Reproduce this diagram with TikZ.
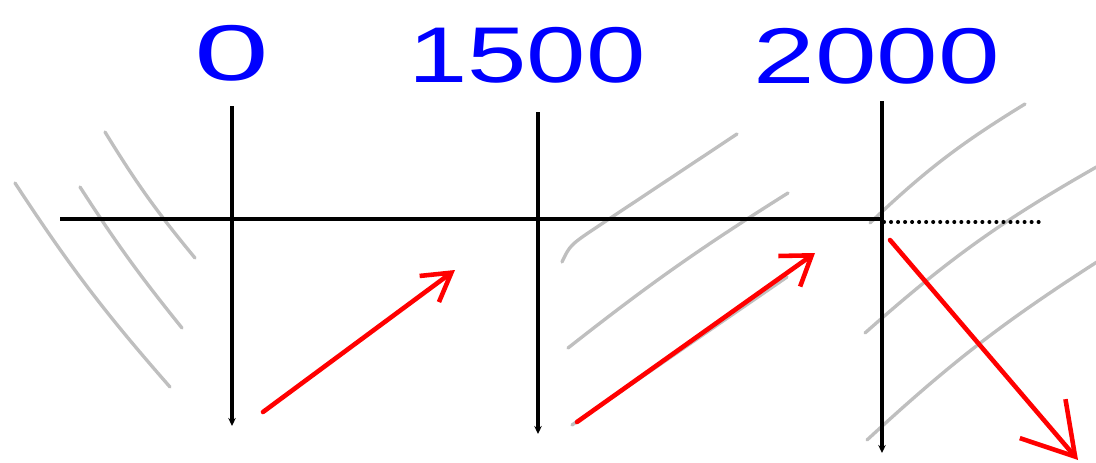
\documentclass[tikz,border=0pt]{standalone}
\usepackage{fontspec}
\setmainfont{Liberation Sans}
\usetikzlibrary{arrows.meta, calc}

\begin{document}
\begin{tikzpicture}[x=0.02cm, y=-0.02cm, >={Stealth[length=1.6mm, width=1.5mm]},
  axis/.style={line width=2pt, black},
  hatch/.style={line width=1.9pt, black!25, line cap=round},
  move/.style={line width=2.6pt, red, line cap=round, line join=round},
  year/.style={text=blue, font=\fontsize{45}{45}\selectfont, inner sep=0pt}]
  \useasboundingbox (0,0) rectangle (1096,463);
  \node[year] (lbl0) at (232,53) {\scalebox{1.7}[1]{0}};
  \node[year] (lbl1500) at (527,55) {\scalebox{1.35}[1]{1500}};
  \node[year] (lbl2000) at (877,56) {\scalebox{1.4}[1]{2000}};
  \draw[hatch] (15,183) to[bend right=4] (170,387);
  \draw[hatch] (80,187) to[bend right=3] (182,328);
  \draw[hatch] (105,132) to[bend right=4] (195,258);
  \draw[hatch] (562,262) .. controls (570,245) .. (600,225) -- (737,134);
  \draw[hatch] (568,348) to[bend left=3] (788,193);
  \draw[hatch] (572,425) -- (787,277);
  \draw[hatch] (870,223) to[bend left=6] (1025,104);
  \draw[hatch] (865,333) to[bend left=6] (1100,165);
  \draw[hatch] (867,440) to[bend left=5] (1100,260);
  \coordinate (start) at (60,219);
  \coordinate (now) at (880,219);
  \coordinate (later) at (1044,222);
  \coordinate (top0) at (232,106);
  \coordinate (bot0) at (232,426);
  \coordinate (top1500) at (538,112);
  \coordinate (bot1500) at (538,434);
  \coordinate (top2000) at (882,101);
  \coordinate (bot2000) at (882,453);
  \draw[axis] (start) -- (now);
  \draw[line width=2.3pt, dash pattern=on 0pt off 4pt, line cap=round] ($(now)+(4,3)$) -- (later);
  \draw[axis, ->] (top0) -- (bot0);
  \draw[axis, ->] (top1500) -- (bot1500);
  \draw[axis, ->] (top2000) -- (bot2000);
  \coordinate (rise0) at (263,412);
  \coordinate (tip0) at (455,270);
  \coordinate (rise1) at (577,422);
  \coordinate (tip1) at (815,253);
  \coordinate (fall0) at (890,240);
  \coordinate (tip2) at (1078,460);
  \draw[move, -{Straight Barb[length=5.5mm, width=6.5mm]}] (rise0) -- (tip0);
  \draw[move, -{Straight Barb[length=5.5mm, width=7.5mm]}] (rise1) -- (tip1);
  \draw[move, -{Straight Barb[length=10mm, width=12mm]}] (fall0) -- (tip2);
\end{tikzpicture}
\end{document}
